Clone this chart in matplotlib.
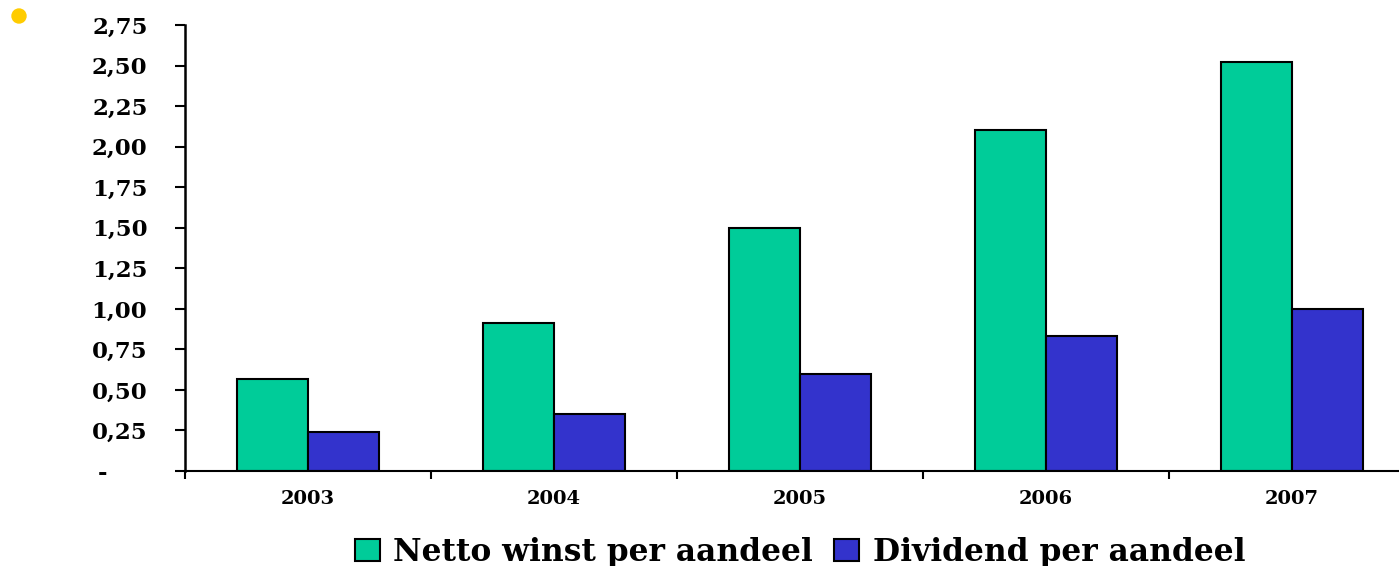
import numpy as np
import matplotlib.pyplot as plt
from matplotlib.ticker import FuncFormatter
from matplotlib.patches import Ellipse

years = ['2003', '2004', '2005', '2006', '2007']
netto_winst = [0.57, 0.91, 1.50, 2.10, 2.52]
dividend = [0.24, 0.35, 0.60, 0.83, 1.00]

plt.rcParams['font.family'] = ['DejaVu Serif']
plt.rcParams['font.weight'] = 'bold'

fig = plt.figure(figsize=(13.99, 5.66), dpi=100)
ax = fig.add_axes([185/1399, 95/566, 1230/1399, 446/566])

x = np.arange(len(years))
w = 0.288
ax.bar(x - w/2, netto_winst, w, color='#00CC99', edgecolor='black', linewidth=1.5,
       label='Netto winst per aandeel')
ax.bar(x + w/2, dividend, w, color='#3333CC', edgecolor='black', linewidth=1.5,
       label='Dividend per aandeel')

ax.set_xlim(-0.5, 4.5)
ax.set_ylim(0, 2.75)
ax.set_yticks(np.arange(0, 2.76, 0.25))

def fmt(v, pos):
    if abs(v) < 1e-9:
        return '-     '
    return ('%.2f' % v).replace('.', ',')

ax.yaxis.set_major_formatter(FuncFormatter(fmt))
ax.tick_params(axis='y', length=7, width=1.5, pad=20, labelsize=16.5)

# category labels between boundary ticks
ax.set_xticks(np.arange(-0.5, 5, 1))
ax.set_xticklabels([])
ax.set_xticks(x, minor=True)
ax.set_xticklabels(years, minor=True)
ax.tick_params(axis='x', which='major', length=6, width=1.5)
ax.tick_params(axis='x', which='minor', length=0, pad=14, labelsize=14)

for s in ['top', 'right']:
    ax.spines[s].set_visible(False)
ax.spines['left'].set_linewidth(1.8)
ax.spines['bottom'].set_linewidth(1.5)

fig.legend(loc='center', bbox_to_anchor=(0.572, 14/566), ncol=2, frameon=False,
           fontsize=22.5, handlelength=0.8, handleheight=0.7, handletextpad=0.42,
           columnspacing=0.68, borderpad=0, borderaxespad=0)

fig.add_artist(Ellipse((19/1399, 1 - 16/566), 14/1399, 14/566, color='#FFCC00',
                       transform=fig.transFigure))

fig.savefig('out.png', dpi=100)
